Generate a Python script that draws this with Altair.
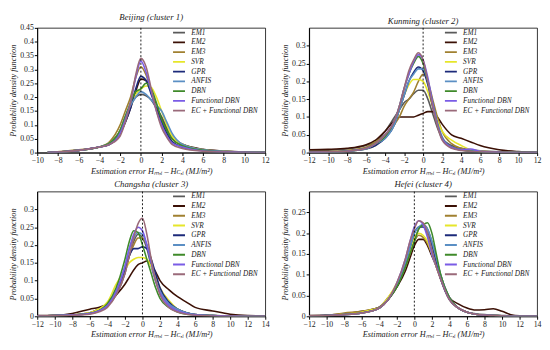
import altair as alt
import pandas as pd

SERIES = ["EM1", "EM2", "EM3", "SVR", "GPR", "ANFIS", "DBN", "Functional DBN", "EC + Functional DBN"]
COLORS = ["#5a5a5a", "#3b1005", "#a08030", "#e6e62a", "#1c2a7a", "#5b8fc4", "#3f8a2a", "#7a5ce6", "#9a6a7a"]

# ---- Beijing (cluster 1)
x1 = [-9, -6, -4, -3, -2, -1.5, -1, -0.5, 0, 0.5, 1, 1.5, 2, 2.5, 3, 4, 6, 8, 10, 12]
p1 = {
    "EM1":   [0, .008, .02, .035, .08, .13, .17, .2, .21, .205, .19, .16, .13, .09, .06, .03, .01, .005, .002, .001],
    "EM2":   [0, .008, .02, .03, .07, .11, .16, .22, .265, .26, .22, .17, .12, .08, .05, .03, .012, .006, .003, .002],
    "EM3":   [0, .01, .02, .04, .1, .15, .2, .27, .31, .28, .22, .16, .1, .06, .04, .02, .008, .004, .002, .001],
    "SVR":   [0, .008, .02, .035, .08, .13, .17, .21, .23, .24, .235, .2, .15, .1, .06, .03, .01, .005, .002, .001],
    "GPR":   [0, .008, .02, .03, .07, .11, .16, .23, .275, .26, .21, .16, .11, .07, .04, .02, .008, .003, .001, 0],
    "ANFIS": [0, .008, .02, .035, .08, .13, .17, .2, .22, .21, .19, .17, .15, .11, .07, .03, .01, .005, .002, .001],
    "DBN":   [0, .008, .02, .035, .08, .13, .18, .22, .23, .25, .23, .18, .12, .08, .05, .025, .008, .003, .001, 0],
    "Functional DBN":      [0, .008, .02, .03, .07, .12, .18, .27, .33, .29, .22, .15, .1, .06, .035, .02, .006, .003, .001, 0],
    "EC + Functional DBN": [0, .008, .02, .03, .06, .11, .18, .28, .34, .31, .23, .15, .09, .055, .03, .015, .005, .002, .001, 0],
}

# ---- Kunming (cluster 2)
x2 = [-12, -10, -8, -6, -5, -4, -3, -2.5, -2, -1.5, -1, -0.5, 0, 0.5, 1, 1.5, 2, 3, 4, 5, 6, 8, 10, 12]
p2 = {
    "EM1":   [.007, .007, .01, .02, .03, .06, .1, .12, .14, .15, .165, .175, .175, .15, .11, .07, .04, .02, .012, .008, .005, .002, .001, 0],
    "EM2":   [.008, .009, .012, .022, .035, .06, .09, .1, .1, .1, .1, .105, .11, .115, .115, .1, .08, .05, .04, .03, .02, .008, .003, .001],
    "EM3":   [.003, .003, .006, .015, .03, .05, .08, .1, .13, .15, .17, .2, .22, .2, .15, .1, .06, .025, .012, .006, .004, .002, .001, 0],
    "SVR":   [.002, .002, .004, .01, .02, .045, .08, .12, .16, .19, .205, .205, .2, .17, .13, .09, .06, .035, .02, .008, .004, .002, 0, 0],
    "GPR":   [.002, .002, .004, .01, .02, .04, .08, .12, .16, .2, .225, .24, .23, .19, .13, .08, .04, .015, .008, .004, .002, .001, 0, 0],
    "ANFIS": [.002, .002, .004, .01, .025, .04, .08, .12, .16, .2, .22, .235, .235, .2, .14, .085, .045, .015, .008, .006, .003, .001, 0, 0],
    "DBN":   [.002, .002, .004, .012, .025, .045, .09, .13, .18, .22, .25, .27, .25, .2, .14, .08, .04, .015, .007, .004, .002, .001, 0, 0],
    "Functional DBN":      [.001, .002, .004, .012, .025, .05, .09, .13, .18, .22, .255, .275, .26, .21, .14, .08, .04, .015, .008, .01, .004, .001, 0, 0],
    "EC + Functional DBN": [.001, .002, .004, .012, .025, .05, .09, .13, .18, .23, .26, .28, .26, .2, .13, .075, .035, .012, .006, .004, .002, .001, 0, 0],
}

# ---- Changsha (cluster 3)
x3 = [-12, -10, -8, -6, -5, -4, -3, -2, -1.5, -1, -0.5, 0, 0.5, 1, 1.5, 2, 3, 4, 5, 6, 8, 10, 12, 14]
p3 = {
    "EM1":   [.001, .002, .004, .01, .02, .03, .06, .12, .17, .21, .23, .22, .19, .14, .1, .07, .035, .02, .01, .005, .002, .001, 0, 0],
    "EM2":   [.002, .003, .008, .02, .025, .035, .06, .09, .11, .13, .145, .15, .155, .145, .125, .1, .075, .055, .04, .025, .015, .006, .002, .001],
    "EM3":   [.001, .002, .004, .01, .02, .03, .07, .13, .17, .2, .22, .22, .2, .16, .11, .07, .035, .02, .01, .005, .002, .001, 0, 0],
    "SVR":   [.001, .002, .004, .01, .02, .04, .09, .13, .15, .16, .165, .165, .16, .14, .11, .08, .045, .02, .008, .004, .002, .001, 0, 0],
    "GPR":   [.001, .002, .004, .008, .015, .03, .07, .13, .17, .19, .19, .195, .19, .16, .12, .08, .04, .02, .01, .005, .002, .001, 0, 0],
    "ANFIS": [.001, .002, .004, .008, .015, .03, .07, .14, .19, .22, .235, .23, .2, .15, .1, .07, .035, .02, .01, .005, .002, .001, 0, 0],
    "DBN":   [.001, .002, .004, .008, .015, .035, .08, .16, .21, .24, .235, .2, .16, .12, .08, .05, .025, .012, .006, .004, .002, .001, 0, 0],
    "Functional DBN":      [.001, .002, .004, .008, .015, .03, .07, .14, .19, .23, .25, .24, .2, .15, .1, .065, .03, .015, .008, .004, .002, .001, 0, 0],
    "EC + Functional DBN": [.001, .002, .003, .006, .012, .025, .06, .12, .17, .22, .26, .275, .23, .16, .1, .06, .025, .012, .006, .003, .001, 0, 0, 0],
}

# ---- Hefei (cluster 4)
x4 = [-12, -10, -8, -6, -5, -4, -3, -2, -1, -0.5, 0, 0.5, 1, 1.5, 2, 2.5, 3, 4, 5, 6, 7, 8, 9, 10, 11, 12, 14]
p4 = {
    "EM1":   [.001, .002, .005, .01, .015, .02, .04, .07, .12, .15, .18, .21, .22, .21, .18, .14, .1, .045, .02, .01, .006, .004, .003, .002, .001, .001, 0],
    "EM2":   [.002, .003, .006, .012, .016, .022, .04, .07, .11, .14, .17, .185, .185, .17, .145, .12, .09, .045, .03, .02, .015, .016, .018, .012, .004, .001, 0],
    "EM3":   [.001, .002, .008, .012, .016, .022, .045, .075, .12, .15, .18, .195, .19, .175, .15, .12, .09, .04, .02, .01, .005, .003, .002, .001, .001, 0, 0],
    "SVR":   [.001, .002, .005, .01, .015, .02, .045, .08, .13, .16, .19, .2, .195, .18, .15, .12, .09, .04, .02, .01, .005, .003, .002, .001, .001, 0, 0],
    "GPR":   [.001, .002, .004, .008, .012, .02, .04, .075, .13, .165, .2, .215, .215, .2, .17, .13, .09, .04, .02, .01, .005, .003, .002, .001, 0, 0, 0],
    "ANFIS": [.001, .002, .004, .008, .012, .02, .04, .075, .13, .165, .2, .215, .22, .21, .18, .14, .1, .045, .02, .01, .005, .003, .002, .001, 0, 0, 0],
    "DBN":   [.001, .002, .004, .008, .012, .02, .04, .07, .12, .15, .18, .21, .22, .225, .2, .15, .1, .045, .02, .01, .005, .003, .002, .001, 0, 0, 0],
    "Functional DBN":      [.001, .002, .004, .008, .012, .02, .04, .08, .14, .18, .215, .23, .22, .19, .15, .12, .09, .04, .02, .01, .005, .003, .002, .001, 0, 0, 0],
    "EC + Functional DBN": [.001, .002, .004, .008, .012, .02, .04, .08, .14, .18, .21, .23, .225, .2, .16, .12, .09, .04, .02, .01, .005, .003, .002, .001, 0, 0, 0],
}

TITLES = ["Beijing (cluster 1)", "Kunming (cluster 2)", "Changsha (cluster 3)", "Hefei (cluster 4)"]
XDOM = [[-10, 12], [-12, 12], [-12, 14], [-12, 14]]
YDOM = [[0, 0.45], [0, 0.35], [0, 0.35], [0, 0.3]]
ZERO_LINE = [0]

XTITLE = "Estimation error  H\u2098,\u1d62 \u2013 H\u1d04,\u1d62 (MJ/m\u00b2)"
SERIF = "Liberation Serif"

W, H = 234, 128


def panel(xs, data, title, xdom, ydom):
    rows = []
    for s in SERIES:
        for xv, yv in zip(xs, data[s]):
            rows.append({"x": xv, "y": yv, "series": s, "order": SERIES.index(s)})
    df = pd.DataFrame(rows)
    xenc = alt.X("x:Q", scale=alt.Scale(domain=xdom, nice=False, zero=False),
                 axis=alt.Axis(values=list(range(xdom[0], xdom[1] + 1, 2)), format="d",
                               title=XTITLE, labelOverlap=False, labelFlush=False))
    lines = alt.Chart(df).mark_line(strokeWidth=1.6, interpolate="monotone", clip=True).encode(
        x=xenc,
        y=alt.Y("y:Q", scale=alt.Scale(domain=ydom, nice=False),
                axis=alt.Axis(values=[i * 0.05 for i in range(int(round(ydom[1] / 0.05)) + 1)],
                              format=".2~f", title="Probability density function",
                              labelOverlap=False)),
        color=alt.Color("series:N", scale=alt.Scale(domain=SERIES, range=COLORS),
                        legend=alt.Legend(title=None, orient="none", legendX=138, legendY=0,
                                          padding=0,
                                          symbolType="stroke", symbolStrokeWidth=2,
                                          symbolSize=150, clipHeight=9.8, rowPadding=0,
                                          labelFont=SERIF, labelFontStyle="italic",
                                          labelFontWeight="normal", labelColor="#222",
                                          labelFontSize=7.5, labelLimit=200, labelOffset=5)),
        order="order:Q",
    )
    rule = alt.Chart(pd.DataFrame({"x": ZERO_LINE})).mark_rule(
        color="black", strokeDash=[2, 2], strokeWidth=0.9).encode(x=xenc)
    return alt.layer(lines, rule).properties(
        width=W, height=H,
        title=alt.TitleParams(title, font=SERIF, fontStyle="italic", fontWeight="normal",
                              fontSize=9, offset=2, color="#222"))


charts = [panel(x, d, t, xd, yd) for x, d, t, xd, yd in
          zip([x1, x2, x3, x4], [p1, p2, p3, p4], TITLES, XDOM, YDOM)]

top = alt.hconcat(charts[0], charts[1], spacing=10).resolve_scale(color="independent")
bottom = alt.hconcat(charts[2], charts[3], spacing=10).resolve_scale(color="independent")
chart = alt.vconcat(top, bottom, spacing=5).resolve_scale(color="independent").configure(
    padding=0, background="white"
).configure_view(stroke="black", strokeWidth=0.8).configure_axis(
    grid=False, labelFont=SERIF, labelFontSize=8, labelColor="#222",
    titleFont=SERIF, titleFontStyle="italic", titleFontWeight="normal", titleFontSize=8.5,
    titleColor="#222", domainColor="black", tickColor="black", tickSize=3,
    labelPadding=1, titlePadding=2, labelOverlap=False,
).configure_legend(labelFont=SERIF, labelFontStyle="italic", labelFontWeight="normal")

chart.save("out.html", embed_options={"renderer": "svg", "actions": False})
